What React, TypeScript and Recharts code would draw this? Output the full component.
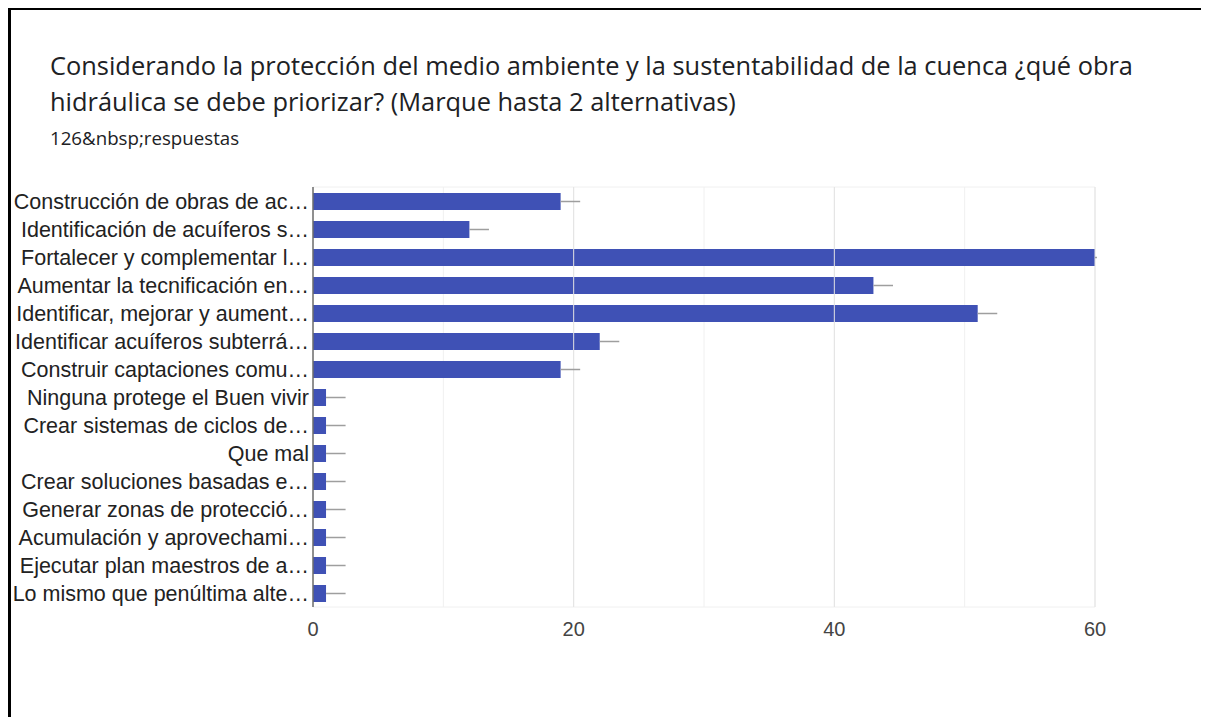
import { BarChart, Bar, XAxis, YAxis, CartesianGrid, ReferenceLine, ErrorBar } from 'recharts'

const categories = [
  'Construcción de obras de ac…',
  'Identificación de acuíferos s…',
  'Fortalecer y complementar l…',
  'Aumentar la tecnificación en…',
  'Identificar, mejorar y aument…',
  'Identificar acuíferos subterrá…',
  'Construir captaciones comu…',
  'Ninguna protege el Buen vivir',
  'Crear sistemas de ciclos de…',
  'Que mal',
  'Crear soluciones basadas e…',
  'Generar zonas de protecció…',
  'Acumulación y aprovechami…',
  'Ejecutar plan maestros de a…',
  'Lo mismo que penúltima alte…',
]
const counts = [19, 12, 60, 43, 51, 22, 19, 1, 1, 1, 1, 1, 1, 1, 1]
const errorUp = [1.5, 1.5, 1.5, 1.5, 1.5, 1.5, 1.5, 1.5, 1.5, 1.5, 1.5, 1.5, 1.5, 1.5, 1.5]
const gridTicks = [0, 10, 20, 30, 40, 50, 60]
const labelTicks = [0, 20, 40, 60]

const data = categories.map((name, i) => ({ name, value: counts[i], err: [0, errorUp[i]] }))

const YTick = ({ x, y, payload }: any) => (
  <text x={x} y={y} dy="0.36em" textAnchor="end" fontSize={21.5} fill="#222"
    fontFamily="'Liberation Sans', Arial, sans-serif">{payload.value}</text>
)

export default function App() {
  return (
    <div style={{ position: 'relative', width: 1201, height: 709, background: '#fff', overflow: 'hidden' }}>
      <div style={{ position: 'absolute', left: 0, top: -1, width: 1201, height: 3, background: '#000' }} />
      <div style={{ position: 'absolute', left: 0, top: -1, width: 3, height: 710, background: '#000' }} />
      <div style={{ position: 'absolute', left: 42, top: 39, width: 1150, fontFamily: "'Open Sans', sans-serif", fontSize: 25.4, lineHeight: '36px', color: '#202124' }}>
        Considerando la protección del medio ambiente y la sustentabilidad de la cuenca ¿qué obra hidráulica se debe priorizar? (Marque hasta 2 alternativas)
      </div>
      <div style={{ position: 'absolute', left: 42, top: 120, fontFamily: "'Open Sans', sans-serif", fontSize: 18.7, lineHeight: '20px', color: '#202124' }}>
        126&amp;nbsp;respuestas
      </div>
      <div style={{ position: 'absolute', left: 0, top: 0 }}>
        <BarChart width={1201} height={700} data={data} layout="vertical" barSize={17}
          margin={{ top: 179, right: 114, bottom: 61, left: 0 }}>
          <CartesianGrid stroke="#f0f0f0"
            horizontalCoordinatesGenerator={({ offset }: any) => [offset.top, offset.top + offset.height]} />
          {labelTicks.map(t => (
            <ReferenceLine key={t} x={t} stroke="#e3e3e3" />
          ))}
          <XAxis type="number" domain={[0, 60]} ticks={gridTicks} allowDataOverflow height={40}
            axisLine={false} tickLine={false} tickMargin={9}
            tickFormatter={(v: number) => (labelTicks.includes(v) ? String(v) : '')}
            tick={{ fontSize: 20, fill: '#444', fontFamily: "'Liberation Sans', Arial, sans-serif" }} />
          <YAxis type="category" dataKey="name" width={305} interval={0}
            axisLine={{ stroke: '#333' }} tickLine={false} tickSize={2} tickMargin={2} tick={<YTick />} />
          <Bar dataKey="value" fill="#3f51b5" isAnimationActive={false}>
            <ErrorBar dataKey="err" direction="x" width={0} stroke="#9e9e9e" strokeWidth={1.5} isAnimationActive={false} />
          </Bar>
        </BarChart>
      </div>
      {/* mask error bars that run past the plot's right edge */}
      <div style={{ position: 'absolute', left: 1089, top: 179, width: 30, height: 421, background: '#fff' }} />
    </div>
  )
}
